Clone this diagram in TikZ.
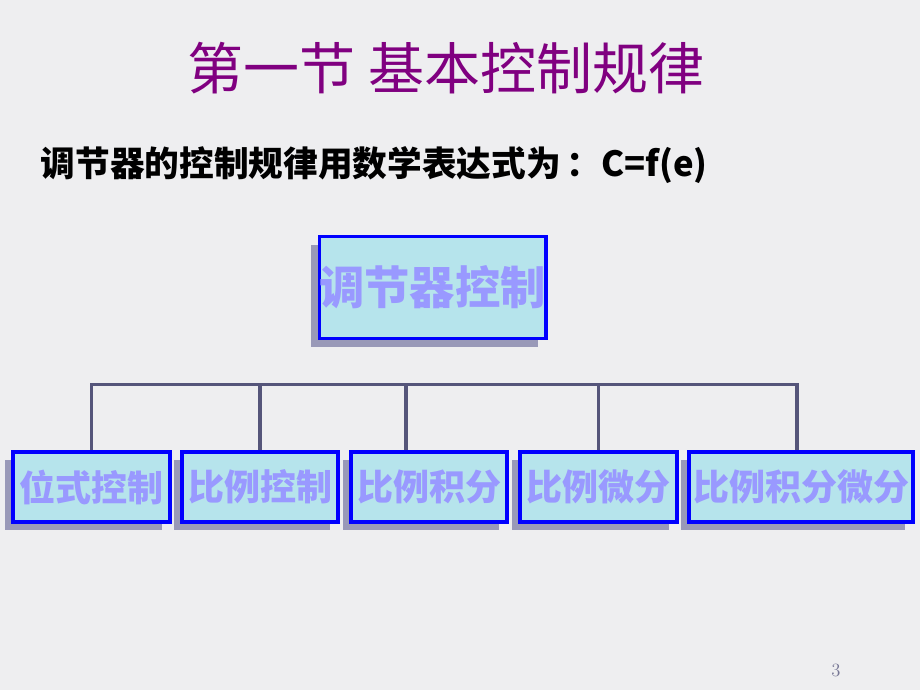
\documentclass[tikz,border=0pt]{standalone}
\usepackage{fontspec}
\usepackage{xcolor}
\usepackage{tikz}
\usetikzlibrary{shadows,calc}
\newfontfamily\cjk{Noto Sans CJK SC}
\definecolor{slidebg}{RGB}{238,238,240}
\definecolor{titlepurple}{RGB}{128,0,128}
\definecolor{boxcyan}{RGB}{182,228,236}
\definecolor{boxtext}{RGB}{153,153,255}
\definecolor{boxshadow}{RGB}{153,153,184}
\definecolor{busline}{RGB}{85,85,122}
\begin{document}
\begin{tikzpicture}[x=0.75pt, y=-0.75pt,
	ctrl/.style={draw=blue, line width=2.5pt, fill=boxcyan, inner sep=0pt, text=boxtext,
		minimum height=52.5pt, font=\cjk\bfseries\fontsize{27}{30}\selectfont,
		drop shadow={shadow xshift=-6pt, shadow yshift=-6pt, fill=boxshadow, opacity=1}},
	bus/.style={draw=busline, line width=2.4pt}]
	\fill[slidebg] (0,0) rectangle (920,690);
	\useasboundingbox (0,0) rectangle (920,690);
	\node[text=titlepurple, font=\cjk\fontsize{42}{46}\selectfont] (title) at (446,68) {第一节 基本控制规律};
	\node[anchor=west, font=\cjk\bfseries\fontsize{26}{30}\selectfont] (formula) at (36,165) {调节器的控制规律用数学表达式为\,：C=f(e)};
	\node[ctrl, minimum width=169.5pt, minimum height=76.5pt, font=\cjk\bfseries\fontsize{34}{38}\selectfont] (top) at (432.5,287.5) {调节器控制};
	\node[ctrl, minimum width=117.75pt] (pos) at (91.5,487) {位式控制};
	\node[ctrl, minimum width=117pt] (p) at (260,487) {比例控制};
	\node[ctrl, minimum width=117pt] (pi) at (429,487) {比例积分};
	\node[ctrl, minimum width=117.75pt] (pd) at (598.5,487) {比例微分};
	\node[ctrl, minimum width=168pt] (pid) at (801,487) {比例积分微分};
	\draw[bus] (pos.north) -- ++(0,-66) coordinate (busl) -| ($(pid.north)+(-4,0)$);
	\draw[bus] (p.north) -- (p.north |- busl);
	\draw[bus] ($(pi.north)+(-23,0)$) coordinate (pin) -- (pin |- busl);
	\draw[bus] (pd.north) -- (pd.north |- busl);
	\node[text=busline!80, font=\fontsize{14}{16}\selectfont] (page) at (836,670) {3};
\end{tikzpicture}
\end{document}
